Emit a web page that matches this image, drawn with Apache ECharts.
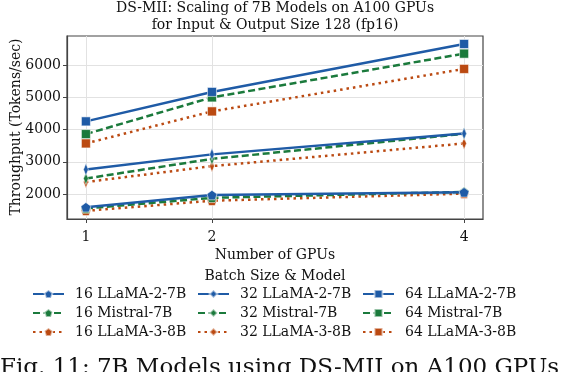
<!DOCTYPE html>
<html>
<head>
<meta charset="utf-8">
<script src="https://cdn.jsdelivr.net/npm/echarts@6/dist/echarts.min.js"></script>
<style>
html, body { margin: 0; padding: 0; background: #fff; }
#chart { width: 564px; height: 372px; }
</style>
</head>
<body>
<div id="chart"></div>
<script>
// data
var gpus = [1, 2, 4];
var yTicks = [2000, 3000, 4000, 5000, 6000];
var batchSizes = [16, 32, 64];
var models = ["LLaMA-2-7B", "Mistral-7B", "LLaMA-3-8B"];

var llama2_16 = [1585, 1965, 2050];
var mistral_16 = [1550, 1880, 2065];
var llama3_16 = [1475, 1790, 2010];
var llama2_32 = [2760, 3230, 3875];
var mistral_32 = [2480, 3090, 3870];
var llama3_32 = [2370, 2865, 3570];
var llama2_64 = [4255, 5170, 6660];
var mistral_64 = [3860, 5000, 6360];
var llama3_64 = [3570, 4565, 5885];

var values = {
    "16 LLaMA-2-7B": llama2_16, "16 Mistral-7B": mistral_16, "16 LLaMA-3-8B": llama3_16,
    "32 LLaMA-2-7B": llama2_32, "32 Mistral-7B": mistral_32, "32 LLaMA-3-8B": llama3_32,
    "64 LLaMA-2-7B": llama2_64, "64 Mistral-7B": mistral_64, "64 LLaMA-3-8B": llama3_64
};

var FONT = "'DejaVu Serif', serif";
var FS = 14;
var colors = ["#1f5ba6", "#1b7a3c", "#bb4a12"];
var lineTypes = ["solid", [7, 3.5], [2.5, 4]];
var symbols = [
    "path://M0,-1L0.951,-0.309L0.588,0.809L-0.588,0.809L-0.951,-0.309Z",
    "path://M0,-1L0.6,0L0,1L-0.6,0Z",
    "rect"
];
var symbolSizes = [[10, 10], [8, 12], [9, 9]];

var series = [];
var legendCols = [[], [], []];
batchSizes.forEach(function (b, bi) {
    models.forEach(function (m, mi) {
        var name = b + " " + m;
        legendCols[bi].push(name);
        series.push({
            name: name,
            type: "line",
            data: gpus.map(function (g, i) { return [g, values[name][i]]; }),
            symbol: symbols[bi],
            symbolSize: symbolSizes[bi],
            symbolKeepAspect: true,
            lineStyle: { color: colors[mi], width: 2.5, type: lineTypes[mi], cap: "butt" },
            itemStyle: { color: colors[mi], borderColor: "rgba(255,255,255,0.55)", borderWidth: 1 },
            z: 10 - mi
        });
    });
});

var myChart = echarts.init(document.getElementById("chart"));
var option = {
    animation: false,
    textStyle: { fontFamily: FONT },
    title: {
        text: "DS-MII: Scaling of 7B Models on A100 GPUs\nfor Input & Output Size 128 (fp16)",
        left: 275,
        textAlign: "center",
        top: 0,
        padding: 0,
        textStyle: { fontFamily: FONT, fontSize: FS, fontWeight: "normal", color: "#111", lineHeight: 17 }
    },
    grid: {
        left: 67, right: 81, top: 36, bottom: 153,
        outerBoundsMode: "none",
        show: true, borderColor: "#444", borderWidth: 1.2
    },
    xAxis: {
        type: "value",
        min: 0.85,
        max: 4.15,
        name: "Number of GPUs",
        nameLocation: "middle",
        nameGap: 29,
        nameTextStyle: { fontFamily: FONT, fontSize: FS, color: "#111" },
        axisLine: { show: true, lineStyle: { color: "#444", width: 1.2 } },
        axisTick: { show: true, customValues: gpus, length: 4, lineStyle: { color: "#444" } },
        axisLabel: { customValues: gpus, fontFamily: FONT, fontSize: FS, color: "#111", margin: 11 },
        splitLine: { show: true, lineStyle: { color: "#e2e2e2", width: 1 } }
    },
    yAxis: {
        type: "value",
        min: 1222,
        max: 6908,
        axisLine: { show: true, lineStyle: { color: "#444", width: 1.2 } },
        axisTick: { show: true, customValues: yTicks, length: 4, lineStyle: { color: "#444" } },
        axisLabel: {
            customValues: yTicks, fontFamily: FONT, fontSize: FS, color: "#111", margin: 6,
            formatter: function (v) { return String(v); }
        },
        splitLine: { show: true, lineStyle: { color: "#e2e2e2", width: 1 } }
    },
    legend: legendCols.map(function (col, ci) {
        return {
            data: col,
            orient: "vertical",
            left: [32, 197, 362][ci],
            top: 287,
            padding: 0,
            itemWidth: 31,
            itemHeight: 10,
            itemGap: 5,
            textStyle: { fontFamily: FONT, fontSize: FS, color: "#111", padding: [0, 0, 0, 6] }
        };
    }),
    graphic: [
        {
            type: "text",
            x: 16,
            y: 127,
            rotation: Math.PI / 2,
            style: {
                text: "Throughput (Tokens/sec)", font: FS + "px " + FONT, fill: "#111",
                textAlign: "center", textVerticalAlign: "middle"
            }
        },
        {
            type: "text",
            x: 275,
            y: 269,
            style: { text: "Batch Size & Model", font: FS + "px " + FONT, fill: "#111", textAlign: "center" }
        },
        {
            type: "text",
            x: 0,
            y: 357,
            style: { text: "Fig. 11: 7B Models using DS-MII on A100 GPUs", font: "23px " + FONT, fill: "#111" }
        }
    ],
    series: series
};
myChart.setOption(option);
window.addEventListener("resize", function () {
    myChart.resize();
});
</script>
</body>
</html>
